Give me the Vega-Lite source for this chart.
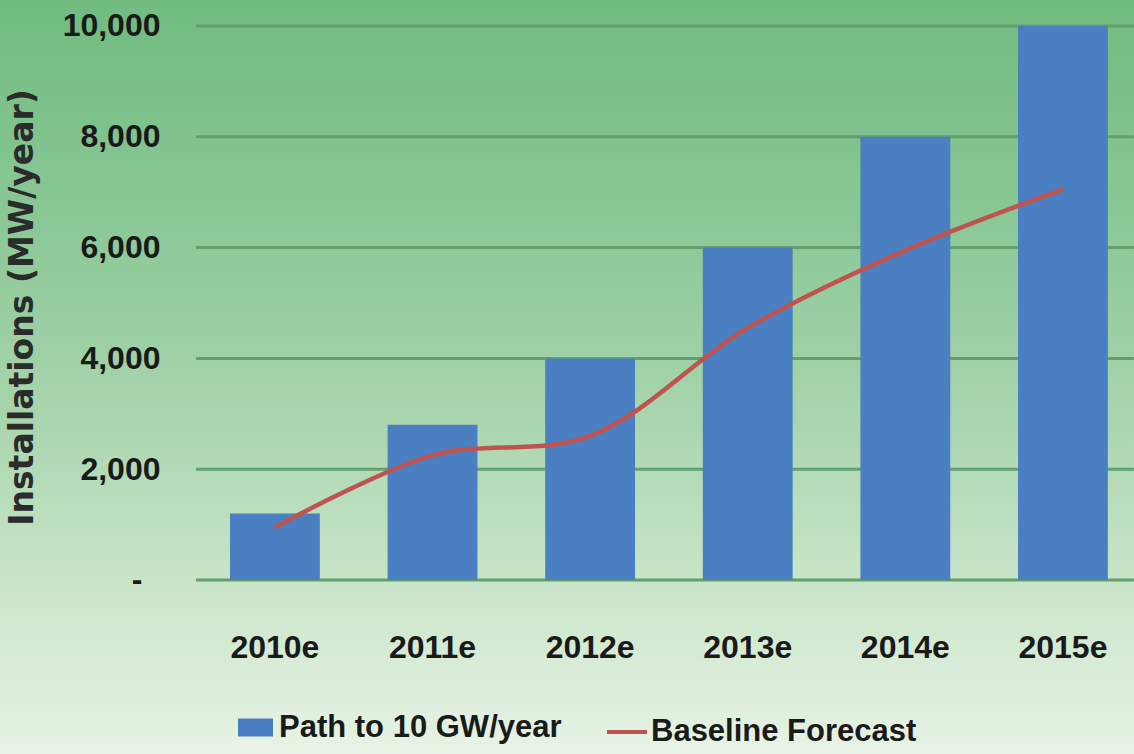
{
  "$schema": "https://vega.github.io/schema/vega-lite/v6.json",
  "width": 1134,
  "height": 754,
  "autosize": {"type": "none"},
  "padding": 0,
  "background": "#e8f3e6",
  "datasets": {
    "grid": [{"v": 0}, {"v": 2000}, {"v": 4000}, {"v": 6000}, {"v": 8000}, {"v": 10000}],
    "installs": [
      {"year": "2010e", "path": 1200, "baseline": 950},
      {"year": "2011e", "path": 2800, "baseline": 2250},
      {"year": "2012e", "path": 4000, "baseline": 2600},
      {"year": "2013e", "path": 6000, "baseline": 4550},
      {"year": "2014e", "path": 8000, "baseline": 5950},
      {"year": "2015e", "path": 10000, "baseline": 7050}
    ]
  },
  "encoding": {
    "x": {
      "field": "year",
      "type": "nominal",
      "sort": null,
      "scale": {
        "domain": ["2010e", "2011e", "2012e", "2013e", "2014e", "2015e"],
        "paddingInner": 0.43,
        "paddingOuter": 0.8125,
        "align": 0.898
      },
      "axis": {
        "title": null,
        "orient": "bottom",
        "offset": -174,
        "labelAngle": 0,
        "domain": false,
        "ticks": false,
        "grid": false,
        "labelPadding": 52,
        "labelFont": "Liberation Sans",
        "labelFontWeight": "bold",
        "labelFontSize": 32,
        "labelColor": "#1a1a1a"
      }
    }
  },
  "layer": [
    {
      "data": {"name": "grid"},
      "mark": {"type": "rule", "color": "#63a06b", "strokeWidth": 3},
      "encoding": {
        "y": {"field": "v", "type": "quantitative"},
        "x": {"datum": "2010e", "bandPosition": -0.378},
        "x2": {"datum": "2015e", "bandPosition": 1.29}
      }
    },
    {
      "data": {"name": "installs"},
      "mark": {"type": "bar", "color": "#4a7fc1"},
      "encoding": {
        "y": {
          "field": "path",
          "type": "quantitative",
          "scale": {"domain": [-3141, 10469], "nice": false, "zero": false},
          "axis": {
            "orient": "left",
            "offset": -196,
            "title": "Installations (MW/year)",
            "titleFont": "DejaVu Sans",
            "titleFontWeight": "bold",
            "titleFontSize": 33,
            "titleColor": "#2b2b2b",
            "titleAngle": -90,
            "titleAlign": "center",
            "titleBaseline": "middle",
            "titleX": -174,
            "titleY": 307,
            "values": [0, 2000, 4000, 6000, 8000, 10000],
            "labelExpr": "datum.value == 0 ? '-' : format(datum.value, ',')",
            "domain": false,
            "ticks": false,
            "grid": false,
            "labelPadding": {"condition": {"test": "datum.value == 0", "value": 54}, "value": 36},
            "labelFont": "Liberation Sans",
            "labelFontWeight": "bold",
            "labelFontSize": 32,
            "labelColor": "#1a1a1a"
          }
        },
        "y2": {"datum": 0},
        "fill": {
          "datum": "Path to 10 GW/year",
          "scale": {"domain": ["Path to 10 GW/year"], "range": ["#4a7fc1"]},
          "legend": {
            "title": null,
            "orient": "none",
            "legendX": 238,
            "legendY": 710,
            "padding": 0,
            "symbolType": "M-1,-0.51H1V0.51H-1Z",
            "symbolSize": 1225,
            "symbolStrokeWidth": 0,
            "labelOffset": 6,
            "labelLimit": 0,
            "labelFont": "Liberation Sans",
            "labelFontWeight": "bold",
            "labelFontSize": 31,
            "labelColor": "#1a1a1a"
          }
        }
      }
    },
    {
      "data": {"name": "installs"},
      "mark": {"type": "line", "interpolate": "catmull-rom", "strokeWidth": 4.5},
      "encoding": {
        "y": {"field": "baseline", "type": "quantitative"},
        "stroke": {
          "datum": "Baseline Forecast",
          "scale": {"domain": ["Baseline Forecast"], "range": ["#bf5350"]},
          "legend": {
            "title": null,
            "orient": "none",
            "legendX": 605,
            "legendY": 710,
            "padding": 0,
            "symbolType": "stroke",
            "symbolSize": 1600,
            "symbolStrokeWidth": 4,
            "labelOffset": 2,
            "labelLimit": 0,
            "labelFont": "Liberation Sans",
            "labelFontWeight": "bold",
            "labelFontSize": 31,
            "labelColor": "#1a1a1a"
          }
        }
      }
    }
  ],
  "config": {
    "view": {
      "stroke": null,
      "fill": {
        "gradient": "linear",
        "x1": 0, "y1": 0, "x2": 0, "y2": 1,
        "stops": [
          {"offset": 0, "color": "#70bc7f"},
          {"offset": 0.3, "color": "#8bc897"},
          {"offset": 0.55, "color": "#a8d5ad"},
          {"offset": 0.8, "color": "#cde7cc"},
          {"offset": 1, "color": "#e8f3e6"}
        ]
      }
    }
  }
}
